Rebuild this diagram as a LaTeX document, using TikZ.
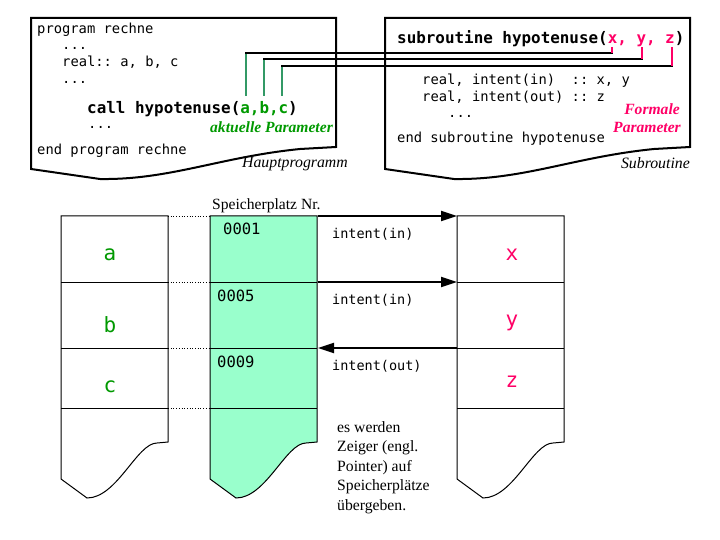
\documentclass[tikz,border=0pt]{standalone}
\usepackage{fontspec}
\setmainfont{Liberation Serif}
\setmonofont{DejaVu Sans Mono}
\usetikzlibrary{arrows.meta}
\definecolor{codegreen}{HTML}{009900}
\definecolor{linkgreen}{HTML}{339966}
\definecolor{pinkc}{HTML}{FF0066}
\definecolor{mint}{HTML}{99FFCC}
\tikzset{
  code/.style={anchor=base west,inner sep=0pt,font=\ttfamily\fontsize{13.8}{16}\selectfont},
  bigcode/.style={anchor=base west,inner sep=0pt,font=\ttfamily\bfseries\fontsize{15.9}{18}\selectfont},
  caption/.style={anchor=base east,inner sep=0pt,font=\itshape\fontsize{15.8}{18}\selectfont},
  paramlbl/.style={anchor=base east,inner sep=0pt,font=\bfseries\itshape\fontsize{15.6}{18}\selectfont},
  boxline/.style={line width=2pt,line join=miter},
  colline/.style={line width=1pt},
  varlbl/.style={anchor=base,inner sep=0pt,font=\ttfamily\fontsize{21}{24}\selectfont},
  numlbl/.style={anchor=base west,inner sep=0pt,font=\ttfamily\fontsize{15.5}{18}\selectfont},
  intlbl/.style={anchor=base west,inner sep=0pt,font=\ttfamily\fontsize{13.5}{16}\selectfont},
  serif/.style={inner sep=0pt,font=\fontsize{15.7}{19.6}\selectfont},
  ptr/.style={line width=2pt,-{Triangle[length=16pt,width=10pt]}},
  glink/.style={line width=2pt,linkgreen},
  blink/.style={line width=2pt,black},
  plink/.style={line width=2pt,pinkc},
}
\newcommand\memcolumn[2]{%
  \begin{scope}[xshift=#1]
    \draw[colline,fill=#2] (0,216) -- (107,216) -- (107,442) -- (96,443)
      .. controls (76,443) and (56,498) .. (26,498) -- (0,479) -- cycle;
    \draw[colline] (0,282) -- (107,282) (0,348) -- (107,348) (0,408) -- (107,408);
  \end{scope}}
\begin{document}
\begin{tikzpicture}[x=1pt,y=-1pt]
\useasboundingbox (0,0) rectangle (720,540);
% ---------- Hauptprogramm box
\draw[boxline] (31,169) -- (31,18) -- (336,18) -- (336,147) -- (300,149)
  .. controls (220,157) and (170,180) .. (100,179) -- cycle;
\node[code] (h1) at (37,33.5) {program rechne};
\node[code] (h2) at (62,50) {...};
\node[code] (h3) at (62,67) {real:: a, b, c};
\node[code] (h4) at (62,84) {...};
\node[bigcode] (h5) at (87,114) {call hypotenuse(\textcolor{codegreen}{a,b,c})};
\node[code] (h6) at (88,129) {...};
\node[code] (h7) at (37,155) {end program rechne};
\node[paramlbl,text=codegreen] (akt) at (333,133) {aktuelle Parameter};
\node[caption] (hp) at (348,168) {Hauptprogramm};
% ---------- Subroutine box
\draw[boxline] (385,169) -- (385,18) -- (690,18) -- (690,147) -- (654,149)
  .. controls (574,157) and (524,180) .. (454,179) -- cycle;
\node[bigcode] (s1) at (397,43.5) {subroutine hypotenuse(\textcolor{pinkc}{x, y, z})};
\node[code] (s2) at (422,84.5) {real, intent(in)\ \ :: x, y};
\node[code] (s3) at (422,101.5) {real, intent(out) :: z};
\node[code] (s4) at (448,118) {...};
\node[code] (s5) at (397,142.5) {end subroutine hypotenuse};
\node[paramlbl,text=pinkc] (fp1) at (680,114.5) {Formale};
\node[paramlbl,text=pinkc] (fp2) at (681,132.5) {Parameter};
\node[caption] (sr) at (690,168.5) {Subroutine};
% ---------- parameter links
\coordinate (ga) at (246,96); \coordinate (gat) at (246,53.5);
\coordinate (gb) at (264,96); \coordinate (gbt) at (264,59.5);
\coordinate (gc) at (282,96); \coordinate (gct) at (282,66);
\coordinate (px) at (612,47); \coordinate (pxb) at (612,53.5);
\coordinate (py) at (642,47); \coordinate (pyb) at (642,59.5);
\coordinate (pz) at (672,47); \coordinate (pzb) at (672,66);
\draw[glink] (ga) -- (gat); \draw[glink] (gb) -- (gbt); \draw[glink] (gc) -- (gct);
\draw[blink] ([xshift=-1pt]gat) -- ([xshift=1pt]pxb);
\draw[blink] ([xshift=-1pt]gbt) -- ([xshift=1pt]pyb);
\draw[blink] ([xshift=-1pt]gct) -- ([xshift=1pt]pzb);
\draw[plink] (px) -- (pxb); \draw[plink] (py) -- (pyb); \draw[plink] (pz) -- (pzb);
% ---------- memory columns
\memcolumn{61pt}{white}
\memcolumn{210pt}{mint}
\memcolumn{457pt}{white}
% dotted guides
\foreach \yy in {216,282,348,408}
  \draw[dotted,line width=0.7pt] (168,\yy) -- (210,\yy);
\node[anchor=base west,inner sep=0pt,font=\fontsize{15.6}{18}\selectfont] (spn) at (212,210) {Speicherplatz Nr.};
\node[varlbl,text=codegreen] (va) at (110,260) {a};
\node[varlbl,text=codegreen] (vb) at (110,332) {b};
\node[varlbl,text=codegreen] (vc) at (110,392) {c};
\node[varlbl,text=pinkc] (vx) at (512,260) {x};
\node[varlbl,text=pinkc] (vy) at (512,326) {y};
\node[varlbl,text=pinkc] (vz) at (512,387) {z};
\node[numlbl] (n1) at (223,235) {0001};
\node[numlbl] (n5) at (217,301) {0005};
\node[numlbl] (n9) at (217,367) {0009};
% pointer arrows
\coordinate (m1) at (318,216); \coordinate (f1) at (457,216);
\coordinate (m2) at (318,282); \coordinate (f2) at (457,282);
\coordinate (m3) at (318,348); \coordinate (f3) at (457,348);
\draw[ptr] (m1) -- (f1);
\draw[ptr] (m2) -- (f2);
\draw[ptr] (f3) -- (m3);
\node[intlbl] (i1) at (332,238) {intent(in)};
\node[intlbl] (i2) at (332,304) {intent(in)};
\node[intlbl] (i3) at (332,370) {intent(out)};
\node[serif,anchor=north west,align=left] (note) at (337,421)
  {es werden\\Zeiger (engl.\\Pointer) auf\\Speicherplätze\\übergeben.};
\end{tikzpicture}
\end{document}
